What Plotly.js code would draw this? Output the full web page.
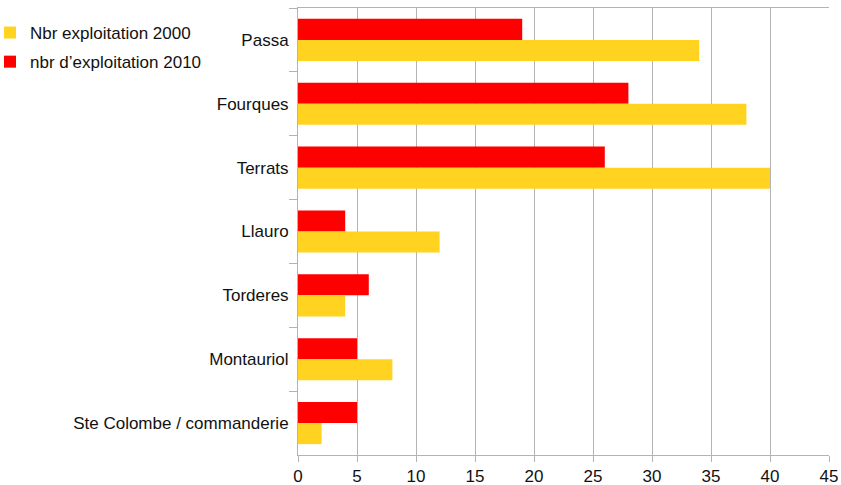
<!DOCTYPE html>
<html>
<head>
<meta charset="utf-8">
<script src="https://cdn.plot.ly/plotly-3.0.1.min.js"></script>
<style>html,body{margin:0;padding:0;background:#fff;}#chart{width:841px;height:485px;}</style>
</head>
<body>
<div id="chart"></div>
<script>
const categories = ["Passa", "Fourques", "Terrats", "Llauro", "Torderes", "Montauriol", "Ste Colombe / commanderie"];
const values2000 = [34, 38, 40, 12, 4, 8, 2];
const values2010 = [19, 28, 26, 4, 6, 5, 5];
const seriesNames = ["Nbr exploitation 2000", "nbr d’exploitation 2010"];
const xTicks = [0, 5, 10, 15, 20, 25, 30, 35, 40, 45];

const traces = [
  {type: "bar", orientation: "h", name: seriesNames[1], y: categories, x: values2010,
   legendgroup: "g2010", legendrank: 2, marker: {color: "#ff0000"}},
  {type: "bar", orientation: "h", name: seriesNames[0], y: categories, x: values2000,
   legendgroup: "g2000", legendrank: 1, marker: {color: "#ffd320"}}
];

const layout = {
  width: 841, height: 485,
  margin: {l: 298, r: 12, t: 8, b: 30, autoexpand: false},
  paper_bgcolor: "#fff", plot_bgcolor: "#fff",
  font: {family: "Liberation Sans, Arial, sans-serif", size: 17, color: "#111"},
  barmode: "group", bargap: 0.34, bargroupgap: 0,
  showlegend: true,
  legend: {xref: "paper", yref: "paper", x: -308/531, xanchor: "left", y: 1 - 7/447, yanchor: "top",
           traceorder: "grouped", font: {size: 17}, itemwidth: 30, tracegroupgap: 4,
           bgcolor: "rgba(0,0,0,0)"},
  xaxis: {range: [0, 45], tickvals: xTicks, ticktext: xTicks.map(String),
          showgrid: true, gridcolor: "#b3b3b3", gridwidth: 1,
          showline: true, linecolor: "#b3b3b3", mirror: true,
          ticks: "outside", ticklen: 6, tickcolor: "#b3b3b3",
          zeroline: false, fixedrange: true, automargin: false, tickfont: {size: 17}},
  yaxis: {type: "category", autorange: "reversed", tickson: "boundaries",
          showgrid: false, showline: true, linecolor: "#b3b3b3",
          ticks: "outside", ticklen: 8, tickcolor: "#b3b3b3", ticklabelstandoff: 5,
          zeroline: false, fixedrange: true, automargin: false, tickfont: {size: 17}}
};

Plotly.newPlot("chart", traces, layout, {displayModeBar: false, staticPlot: true});
</script>
</body>
</html>
